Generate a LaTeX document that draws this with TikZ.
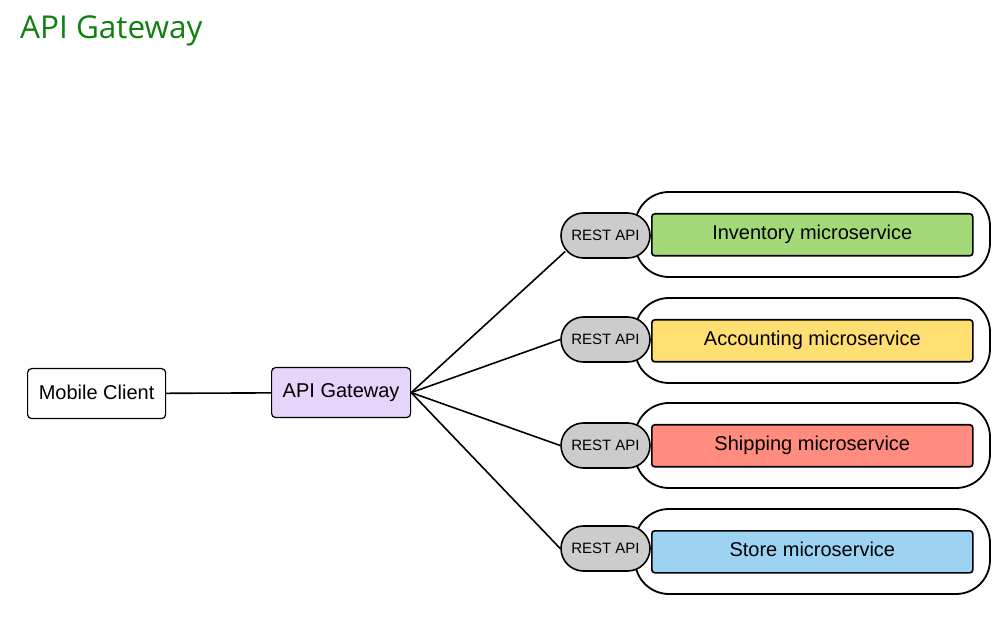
\documentclass[tikz,border=0pt]{standalone}
\usepackage{fontspec}
\usetikzlibrary{shapes.misc}
\setmainfont{Liberation Sans}
\newfontfamily\titlefont{Open Sans}
\definecolor{titlegreen}{RGB}{16,128,16}
\definecolor{gwfill}{RGB}{230,212,250}
\definecolor{restfill}{RGB}{204,204,204}
\definecolor{invfill}{RGB}{163,217,119}
\definecolor{accfill}{RGB}{255,223,113}
\definecolor{shipfill}{RGB}{255,140,126}
\definecolor{storefill}{RGB}{157,210,242}
\begin{document}
\begin{tikzpicture}[x=1pt,y=-1pt,
  box/.style={draw=black, line width=1.2pt, rounded corners=4pt, anchor=north west, inner sep=0pt, font=\fontsize{20}{22}\selectfont},
  outer/.style={draw=black, line width=1.8pt, rounded corners=34pt},
  rest/.style={draw=black, line width=1.6pt, fill=restfill, rounded rectangle, rounded rectangle arc length=180, inner sep=0pt, minimum width=89pt, minimum height=45pt, font=\fontsize{15}{17}\selectfont},
  svc/.style={draw=black, line width=1.6pt, rounded corners=3pt, anchor=north west, inner sep=0pt, minimum width=321pt, minimum height=42pt, font=\fontsize{20}{22}\selectfont},
  conn/.style={draw=black, line width=1.6pt}]
\useasboundingbox (0,0) rectangle (1005,620);
\node[anchor=base west, text=titlegreen, font=\titlefont\fontsize{31.5}{34}\selectfont, inner sep=0pt] (title) at (20,39) {API Gateway};
\node[box, minimum width=138pt, minimum height=50pt] (mc) at (27,368) {\raisebox{3pt}{Mobile Client}};
\node[box, fill=gwfill, minimum width=139pt, minimum height=50pt] (gw) at (271,367) {\raisebox{3pt}{API Gateway}};
\draw[conn] (mc) -- (gw);
% outer containers
\foreach \y/\n in {192/o1,298/o2,403/o3,509/o4}{
  \draw[outer] (635,\y) rectangle (990,\y+85);
}
\node[svc, fill=invfill] (s1) at (651,213) {\raisebox{6pt}{Inventory microservice}};
\node[svc, fill=accfill] (s2) at (651,319) {\raisebox{6pt}{Accounting microservice}};
\node[svc, fill=shipfill] (s3) at (651,424) {\raisebox{6pt}{Shipping microservice}};
\node[svc, fill=storefill] (s4) at (651,530) {\raisebox{6pt}{Store microservice}};
\node[rest] (r1) at (605.5,235.5) {REST API};
\node[rest] (r2) at (605.5,339.5) {REST API};
\node[rest] (r3) at (605.5,445.5) {REST API};
\node[rest] (r4) at (605.5,548.5) {REST API};
\coordinate (r1end) at ([xshift=5pt,yshift=-16pt]r1.west);
\draw[conn] (gw.east) -- (r1end);
\draw[conn] (gw.east) -- (r2.west);
\draw[conn] (gw.east) -- (r3.west);
\draw[conn] (gw.east) -- (r4.west);
\end{tikzpicture}
\end{document}
